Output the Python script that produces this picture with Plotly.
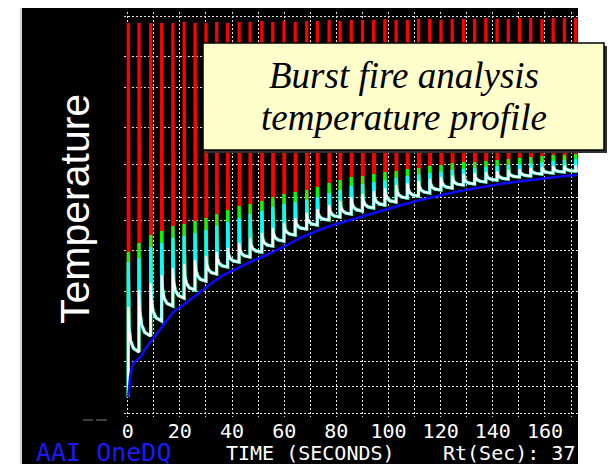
import plotly.graph_objects as go

# ---------------- data ----------------
# burst (shot group) times in seconds
burst_t = [0.2, 4.3, 8.8, 13.0, 17.3, 21.6, 25.8, 30.0, 34.1, 38.3, 42.7, 46.9, 51.4,
           55.6, 59.9, 64.2, 68.6, 72.7, 77.2, 81.4, 85.7, 90.0, 94.3, 98.6, 102.9,
           107.2, 111.5, 115.8, 120.1, 124.4, 128.7, 133.0, 137.3, 141.6, 145.9,
           150.2, 154.5, 158.8, 163.1, 167.4, 171.7]
# white trace: value just before each burst, and its spike peak
white_trough = [16, 61, 77, 92, 107, 115, 123, 132, 139, 146, 151, 156, 161, 167, 172,
                178, 184, 188, 193, 196, 199, 202, 205, 208, 211, 215, 217, 220, 223,
                225, 228, 229, 231, 233, 234, 236, 237, 239, 240, 241, 242]
white_peak = [106, 123, 130, 138, 145, 149, 153, 157, 161, 165, 170, 175, 180, 185, 190,
              195, 200, 204, 208, 212, 216, 219, 222, 225, 228, 230, 232, 234, 236,
              237.5, 239, 240, 241, 242, 243, 244, 245, 246, 247, 247.5, 248]
end_t = 172.7
end_white = 242
# spike peaks of the other traces
cyan_peak = [151, 155, 166, 170, 175, 177, 180, 183, 187, 191, 195, 199, 202, 206, 209,
             211, 213, 216, 220, 223, 227, 229, 231, 233, 235, 237, 238.5, 240, 241.5,
             243, 244, 245, 246, 247, 248, 249, 250, 251, 252, 253, 254]
green_peak = [161, 170, 178, 182, 187, 189, 192, 195, 199, 203, 207, 209, 212, 216, 219,
              221, 223, 226, 230, 233, 236, 237, 239, 241, 242, 244, 245, 247, 248, 250,
              251, 251, 252, 253, 254, 255, 256, 257, 258, 258, 259]
red_peak = [390, 390, 390, 390, 390, 391, 390, 390, 391, 390, 391, 391, 392, 391, 392,
            391, 392, 392, 393, 392, 393, 393, 393, 394, 393, 393, 394, 394, 393, 394,
            394, 394, 395, 394, 394, 395, 395, 394, 395, 395, 395]
# decay shape of each spike: fraction of the period, fraction of the spike left
decay_pos = [0.08, 0.22, 0.5]
decay_left = [0.55, 0.25, 0.08]
# blue (baseline) trace
blue_t = [0.2, 0.5, 0.9, 1.5, 2.2, 3.5, 5.0, 7.0, 10.0, 13.7, 17.5, 21.3, 25.2, 29.0,
          32.8, 36.7, 40.5, 47.0, 53.3, 59.7, 66.1, 72.5, 78.8, 85.2, 91.6, 98.0, 104.4,
          110.8, 117.2, 123.6, 130.0, 136.3, 142.7, 149.2, 155.5, 161.9, 167.4, 172.8]
blue_y = [16, 26, 36, 44, 50, 53, 56, 65, 75, 88, 101, 108, 116, 124, 131, 138, 143,
          151, 158, 166, 175, 182, 188, 193, 198, 203, 207.5, 212, 216, 220, 223.2,
          226.3, 229, 231.3, 233.5, 235.7, 237, 238]
# axes
x_ticks = [0, 10, 20, 30, 40, 50, 60, 70, 80, 90, 100, 110, 120, 130, 140, 150, 160, 170]
x_labels = ["0", "", "20", "", "40", "", "60", "", "80", "", "100", "", "120", "",
            "140", "", "160", ""]
y_grid = [0, 27, 52, 122, 163, 193, 216, 249, 286, 326, 357, 397]

# ---------------- build traces ----------------
nb = len(burst_t)
next_t = burst_t[1:] + [end_t]
next_trough = white_trough[1:] + [end_white]


def decay_points(k):
    per = next_t[k] - burst_t[k]
    drop = white_peak[k] - next_trough[k]
    return ([burst_t[k] + f * per for f in decay_pos],
            [next_trough[k] + l * drop for l in decay_left])


def trace_points(peaks):
    xs, ys = [], []
    for k in range(nb):
        dx, dy = decay_points(k)
        xs += [burst_t[k], burst_t[k] + 0.02] + dx
        ys += [white_trough[k], peaks[k]] + dy
    xs.append(end_t)
    ys.append(end_white)
    return xs, ys


fig = go.Figure()
for peaks, col, w in [(red_peak, "#ff0000", 3.2), (green_peak, "#00ff00", 3.2),
                      (cyan_peak, "#00ffff", 3.2), (white_peak, "#ffffff", 2.2)]:
    cx, cy = trace_points(peaks)
    fig.add_trace(go.Scatter(x=cx, y=cy, mode="lines", line=dict(color=col, width=w),
                             hoverinfo="skip", showlegend=False))
fig.add_trace(go.Scatter(x=blue_t, y=blue_y, mode="lines",
                         line=dict(color="#0a0aff", width=2.5),
                         hoverinfo="skip", showlegend=False))

# ---------------- layout ----------------
W, H = 611, 464
L, R, T, B = 124, 33, 12, 47
PW, PH = W - L - R, H - T - B


def px(x):
    return (x - L) / PW


def py(y):
    return 1 - (y - T) / PH


grid = dict(showgrid=True, gridcolor="#e4e4e4", gridwidth=1, griddash="2px,2px",
            zeroline=False, showline=False)
fig.update_layout(
    width=W, height=H, margin=dict(l=L, r=R, t=T, b=B),
    paper_bgcolor="#ffffff", plot_bgcolor="#000000",
    xaxis=dict(range=[-1.419, 172.66], tickvals=x_ticks, ticktext=x_labels, ticks="",
               tickfont=dict(family="DejaVu Sans Mono", size=20, color="#ffffff"),
               **grid),
    yaxis=dict(range=[-4, 401], tickvals=y_grid, showticklabels=False, ticks="", **grid),
    shapes=[
        dict(type="rect", xref="paper", yref="paper", x0=px(22), x1=px(578),
             y0=py(464), y1=py(8), fillcolor="#000000", line=dict(width=0), layer="below"),
        dict(type="line", xref="paper", yref="paper", x0=px(20.8), x1=px(20.8),
             y0=py(464), y1=py(8), line=dict(color="#d0d0d0", width=2)),
        dict(type="line", xref="paper", yref="paper", x0=px(83), x1=px(93),
             y0=py(420), y1=py(420), line=dict(color="#808080", width=1)),
        dict(type="line", xref="paper", yref="paper", x0=px(96), x1=px(107),
             y0=py(420), y1=py(420), line=dict(color="#808080", width=1)),
        dict(type="rect", xref="paper", yref="paper", x0=px(206), x1=px(607),
             y0=py(153), y1=py(46), fillcolor="#303030", line=dict(width=0), layer="above"),
        dict(type="rect", xref="paper", yref="paper", x0=px(203), x1=px(604),
             y0=py(150), y1=py(43), fillcolor="#ffffcc",
             line=dict(color="#000000", width=1.5), layer="above"),
    ],
    annotations=[
        dict(text="Temperature", xref="paper", yref="paper", x=px(75), y=py(209),
             textangle=-90, showarrow=False, xanchor="center", yanchor="middle",
             font=dict(family="Liberation Sans, Arial", size=41, color="#ffffff")),
        dict(text="<i>Burst fire analysis</i>", xref="paper", yref="paper", x=px(404),
             y=py(75), showarrow=False, xanchor="center", yanchor="middle",
             font=dict(family="Liberation Serif, Times New Roman", size=37, color="#000000")),
        dict(text="<i>temperature profile</i>", xref="paper", yref="paper", x=px(404),
             y=py(117), showarrow=False, xanchor="center", yanchor="middle",
             font=dict(family="Liberation Serif, Times New Roman", size=37, color="#000000")),
        dict(text="AAI OneDQ", xref="paper", yref="paper", x=px(34), y=py(453),
             showarrow=False, xanchor="left", yanchor="middle",
             font=dict(family="DejaVu Sans Mono", size=25, color="#1a1aff")),
        dict(text="TIME (SECONDS)", xref="paper", yref="paper", x=px(224), y=py(453),
             showarrow=False, xanchor="left", yanchor="middle",
             font=dict(family="DejaVu Sans Mono", size=20, color="#ffffff")),
        dict(text="Rt(Sec): 37", xref="paper", yref="paper", x=px(441), y=py(453),
             showarrow=False, xanchor="left", yanchor="middle",
             font=dict(family="DejaVu Sans Mono", size=20, color="#ffffff")),
    ],
)

fig.write_html("out.html")
